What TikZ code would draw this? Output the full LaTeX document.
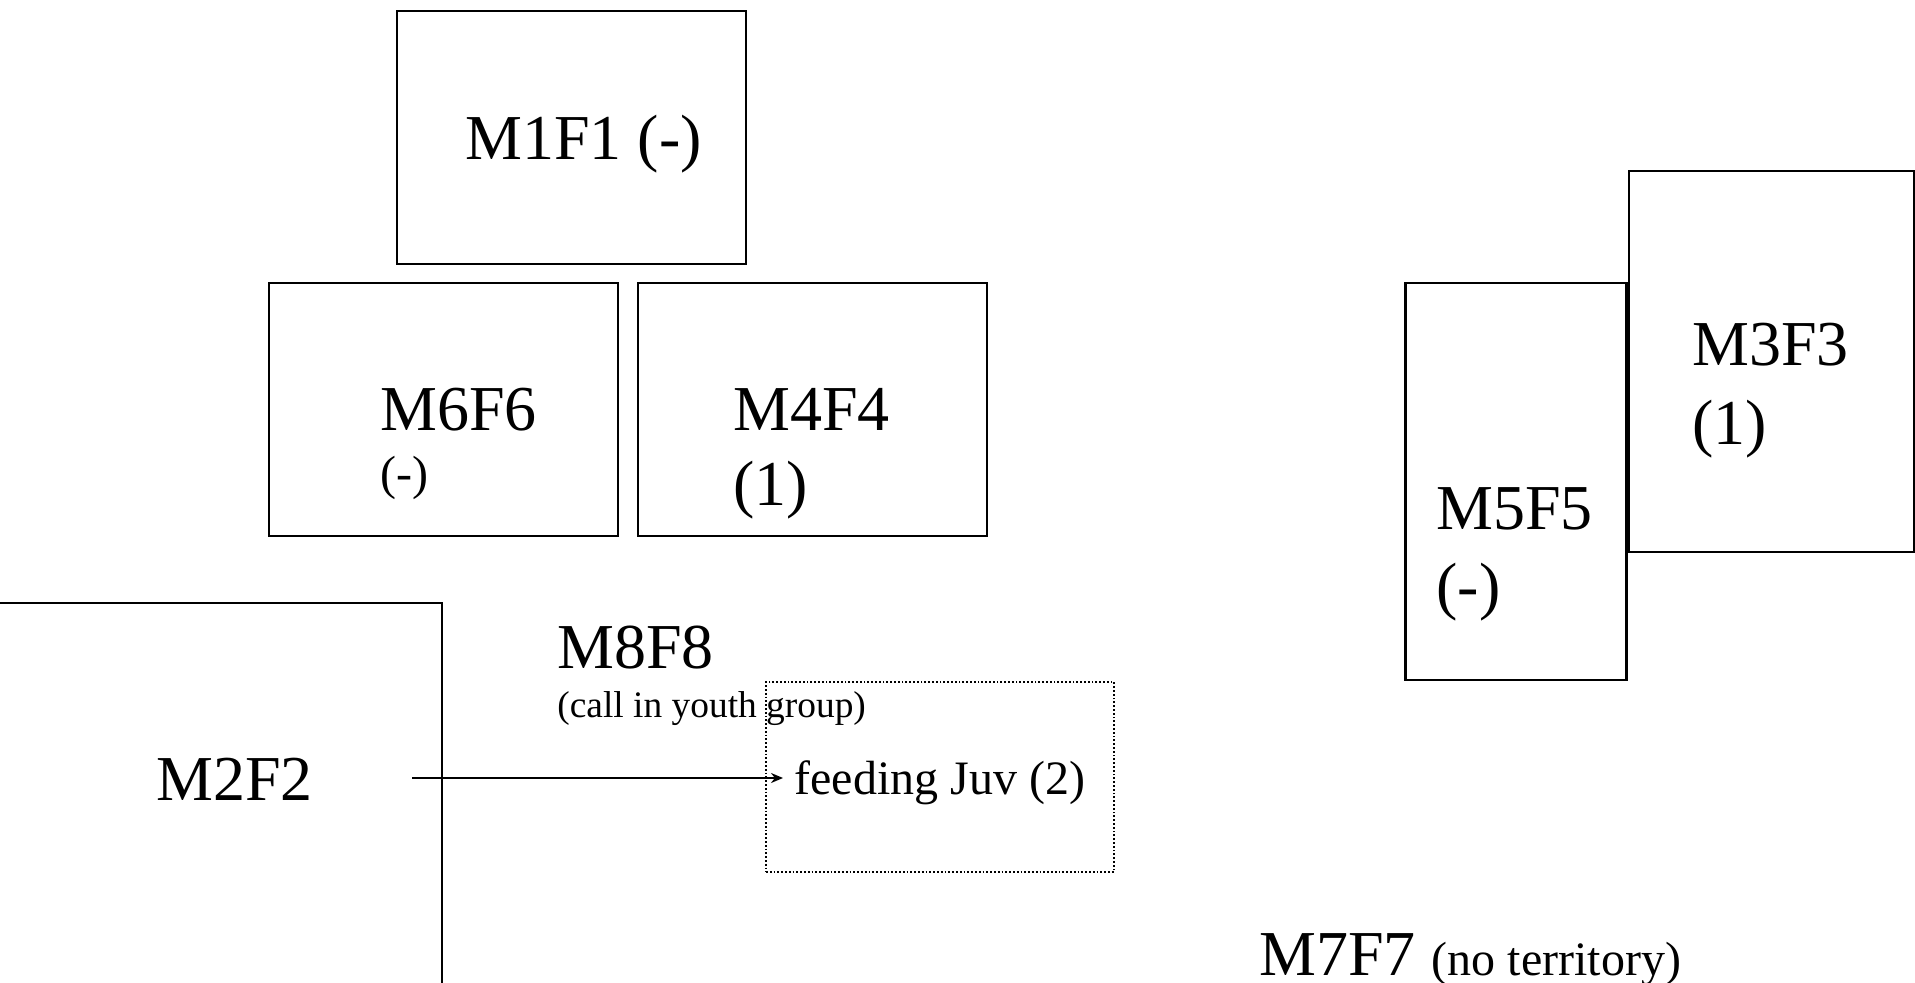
\documentclass[tikz,border=0pt]{standalone}
\usepackage{fontspec}
\setmainfont{Liberation Serif}
\usetikzlibrary{arrows.meta}

\begin{document}
\begin{tikzpicture}[
        % one unit = one pixel of the 1915 x 983 sheet, y downwards
        x=0.5pt, y=-0.5pt,
        terr/.style={
            rectangle,
            draw=black,       % black frame
            line width=1.2pt,
            inner sep=0pt
        },
        juvbox/.style={
            rectangle,
            draw=black,
            densely dotted,
            line width=0.9pt,
            inner sep=0pt,
            minimum width=174pt,
            minimum height=95pt
        },
        bigtext/.style={anchor=base west, inner sep=0pt, font=\fontsize{32}{38}\selectfont},
        midtext/.style={anchor=base west, inner sep=0pt, font=\fontsize{24}{28}\selectfont},
        smalltext/.style={anchor=base west, inner sep=0pt, font=\fontsize{18.7}{22}\selectfont},
        feedarrow/.style={-{Stealth[length=6pt,width=5pt]}, line width=0.9pt}
    ]
        \useasboundingbox (0,0) rectangle (1915,983);

        % --- territories (boxes) ---
        \node[terr, minimum width=174.5pt, minimum height=126.5pt] (m1f1box) at (571.5,137.5) {};
        \node[terr, minimum width=174.5pt, minimum height=126.5pt] (m6f6box) at (443.5,409.5) {};
        \node[terr, minimum width=174.5pt, minimum height=126.5pt] (m4f4box) at (812.5,409.5) {};
        \node[terr, minimum width=110.5pt, minimum height=198.5pt] (m5f5box) at (1516,481.5) {};
        \node[terr, minimum width=142.5pt, minimum height=190.5pt] (m3f3box) at (1771.5,361.5) {};
        \node[juvbox] (juvbox) at (940,777) {};

        % M2F2 runs off the sheet
        \begin{scope}
            \clip (0,0) rectangle (1915,983);
            \draw[line width=1.2pt] (-20,603) -- (442,603) -- (442,1020);
        \end{scope}

        % --- names of the pairs ---
        \node[bigtext] (m1f1) at (465,160) {M1F1 (-)};
        \node[bigtext] (m6f6) at (380,431) {M6F6};
        \node[midtext] (m6f6s) at (380,489) {(-)};
        \node[bigtext] (m4f4) at (733,431) {M4F4};
        \node[bigtext] (m4f4s) at (733,506) {(1)};
        \node[bigtext] (m5f5) at (1436,530) {M5F5};
        \node[bigtext] (m5f5s) at (1436,607) {(-)};
        \node[bigtext] (m3f3) at (1692,366) {M3F3};
        \node[bigtext] (m3f3s) at (1692,445) {(1)};
        \node[bigtext] (m2f2) at (156,800) {M2F2};
        \node[bigtext] (m8f8) at (557,668) {M8F8};
        \node[smalltext] (m8f8s) at (557,717) {(call in youth group)};
        \node[midtext] (feed) at (794,794) {feeding Juv (2)};
        \node[bigtext] (m7f7) at (1259,975) {M7F7 {\fontsize{24}{28}\selectfont(no territory)}};

        % --- M2F2 feeds the young ---
        \coordinate (feedstart) at (412,778);
        \draw[feedarrow] (feedstart) -- ([xshift=-5.5pt]feedstart -| feed.west);

    \end{tikzpicture}
\end{document}
